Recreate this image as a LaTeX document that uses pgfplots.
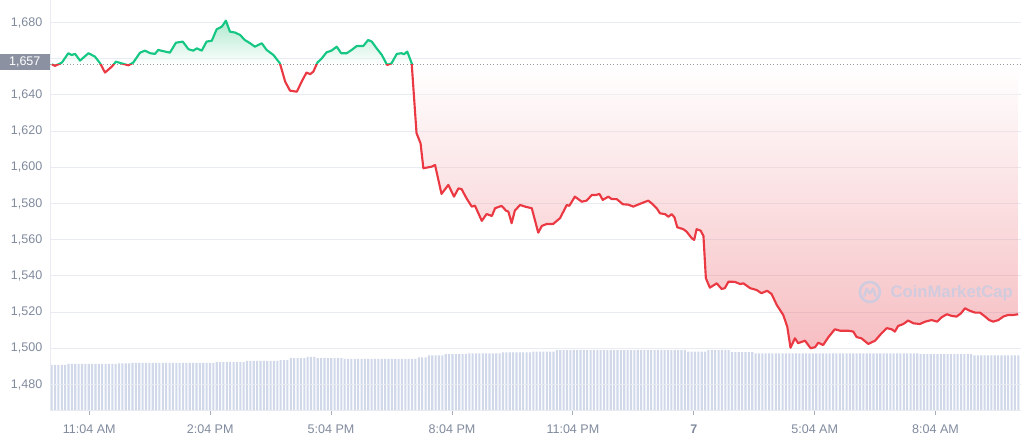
\documentclass[border=0pt]{standalone}
\usepackage{pgfplots}
\pgfplotsset{compat=1.18}
\usepackage{pgfplotstable}
\usepackage{fontspec}
\setmainfont{Liberation Sans}
\definecolor{cmcgreen}{RGB}{22,199,132}
\definecolor{cmcred}{RGB}{234,57,67}
\definecolor{tickgray}{RGB}{128,138,157}
\definecolor{gridgray}{RGB}{232,235,241}
\definecolor{volgray}{RGB}{208,216,234}
\definecolor{boxgray}{RGB}{139,145,160}
\definecolor{greenfill}{RGB}{55,200,135}
\definecolor{redfill}{RGB}{233,93,103}
\definecolor{wmcolor}{RGB}{198,204,226}
% price path bbox 1500.0 .. 1681.1 -> 25bp .. 75bp ; 1657 -> 68.35bp
\pgfdeclareverticalshading{redshade}{100bp}{color(0bp)=(redfill); color(25bp)=(redfill); color(68.35bp)=(white); color(100bp)=(white)}
\pgfdeclareverticalshading{greenshade}{100bp}{color(0bp)=(white); color(68.35bp)=(white); color(75bp)=(greenfill); color(100bp)=(greenfill)}

\pgfplotstableread{
x y
-0.93 1657.0
-0.85 1656.1
-0.68 1657.9
-0.52 1663.1
-0.44 1662.1
-0.35 1662.7
-0.23 1659.0
-0.02 1663.1
0.14 1661.2
0.27 1657.5
0.39 1652.4
0.56 1655.7
0.66 1658.4
0.80 1657.5
0.97 1656.4
1.09 1657.9
1.26 1663.4
1.38 1664.5
1.51 1663.1
1.63 1662.7
1.71 1664.9
1.88 1664.0
2.00 1663.4
2.15 1668.9
2.32 1669.5
2.46 1665.3
2.58 1664.5
2.67 1665.8
2.79 1664.5
2.91 1669.5
3.04 1670.0
3.16 1676.3
3.29 1677.8
3.39 1681.1
3.49 1675.0
3.62 1674.5
3.74 1673.2
3.86 1670.4
3.99 1668.6
4.11 1666.7
4.28 1668.6
4.40 1664.9
4.57 1662.1
4.73 1657.5
4.86 1647.4
4.98 1642.4
5.15 1641.8
5.27 1647.4
5.39 1652.4
5.48 1651.5
5.56 1652.9
5.66 1657.9
5.77 1660.3
5.89 1663.6
6.01 1664.5
6.14 1666.7
6.25 1663.1
6.39 1663.1
6.51 1664.9
6.64 1667.1
6.80 1667.1
6.92 1670.4
7.01 1669.5
7.13 1665.8
7.26 1662.1
7.39 1656.6
7.50 1657.5
7.63 1662.7
7.75 1663.1
7.81 1662.5
7.89 1664.0
8.00 1657.5
8.12 1618.9
8.22 1613.3
8.29 1599.5
8.50 1600.4
8.58 1601.3
8.74 1585.3
8.91 1590.3
9.05 1583.8
9.16 1588.4
9.24 1587.9
9.36 1582.9
9.49 1578.3
9.57 1578.8
9.74 1570.4
9.86 1574.2
9.99 1573.1
10.07 1577.4
10.23 1578.7
10.34 1576.1
10.40 1575.5
10.48 1569.1
10.56 1576.1
10.69 1579.2
10.81 1578.3
10.98 1577.4
11.14 1563.9
11.23 1567.6
11.35 1568.7
11.51 1568.7
11.68 1571.9
11.85 1579.2
11.91 1578.7
12.05 1583.8
12.22 1581.0
12.34 1581.6
12.47 1584.7
12.57 1584.7
12.66 1585.3
12.74 1582.0
12.88 1583.8
12.96 1582.5
13.09 1582.4
13.24 1579.6
13.37 1579.4
13.50 1578.3
13.66 1579.8
13.87 1581.6
13.95 1580.2
14.08 1577.4
14.16 1574.6
14.29 1574.1
14.37 1572.7
14.45 1574.1
14.52 1572.4
14.59 1566.9
14.74 1565.8
14.82 1564.5
14.95 1560.8
15.01 1559.9
15.07 1565.8
15.17 1565.0
15.24 1562.1
15.30 1538.7
15.40 1533.5
15.57 1535.9
15.69 1532.8
15.77 1533.2
15.86 1536.8
16.02 1536.7
16.15 1535.5
16.23 1535.9
16.40 1533.2
16.56 1532.2
16.68 1530.4
16.82 1531.8
16.93 1530.0
17.06 1523.9
17.22 1518.4
17.32 1511.9
17.40 1500.3
17.51 1505.5
17.59 1502.8
17.76 1504.2
17.90 1500.0
18.01 1500.6
18.09 1503.1
18.21 1501.8
18.34 1506.1
18.50 1510.5
18.63 1509.7
18.83 1509.7
18.96 1509.2
19.04 1506.2
19.16 1505.5
19.33 1502.4
19.50 1504.2
19.66 1508.3
19.79 1511.1
19.91 1510.5
19.99 1509.2
20.07 1512.3
20.20 1513.4
20.32 1515.3
20.45 1513.8
20.61 1513.4
20.74 1514.7
20.90 1515.6
21.04 1514.7
21.15 1517.1
21.28 1518.8
21.40 1517.9
21.52 1517.5
21.63 1519.3
21.73 1522.1
21.84 1520.8
21.98 1519.7
22.10 1519.7
22.23 1517.5
22.33 1515.6
22.43 1514.7
22.56 1515.6
22.68 1517.5
22.80 1518.4
22.93 1518.4
23.05 1518.8
}\price

\begin{document}
\begin{tikzpicture}
\useasboundingbox (-37.5pt,-22pt) rectangle (728.25pt,308pt);
% volume bars
\begin{axis}[scale only axis, width=728.25pt, height=308pt, at={(0,0)}, anchor=south west,
  xmin=-0.5, xmax=287.8, ymin=1465.5, ymax=1692.5, hide axis]
\addplot[ybar, bar width=1.55pt, bar shift=0pt, fill=volgray, draw=none] coordinates {
(0,1490.8)(1,1490.8)(2,1490.8)(3,1490.8)(4,1490.8)(5,1491.3)(6,1491.3)(7,1491.3)(8,1491.3)(9,1491.3)
(10,1491.3)(11,1491.3)(12,1491.3)(13,1491.3)(14,1491.3)(15,1491.3)(16,1491.3)(17,1491.3)(18,1491.3)(19,1491.3)
(20,1491.7)(21,1491.7)(22,1491.7)(23,1491.7)(24,1491.9)(25,1491.9)(26,1491.9)(27,1491.9)(28,1491.9)(29,1491.9)
(30,1491.9)(31,1491.9)(32,1491.9)(33,1491.9)(34,1491.9)(35,1491.9)(36,1491.9)(37,1491.9)(38,1491.9)(39,1491.9)
(40,1491.9)(41,1491.9)(42,1491.9)(43,1491.9)(44,1491.9)(45,1491.9)(46,1491.9)(47,1491.9)(48,1491.9)(49,1492.3)
(50,1492.3)(51,1492.3)(52,1492.3)(53,1492.3)(54,1492.3)(55,1492.3)(56,1492.3)(57,1492.3)(58,1493.0)(59,1493.0)
(60,1493.0)(61,1493.0)(62,1493.0)(63,1493.0)(64,1493.0)(65,1493.0)(66,1493.0)(67,1493.0)(68,1493.5)(69,1493.5)
(70,1493.5)(71,1494.5)(72,1494.5)(73,1494.5)(74,1494.5)(75,1494.5)(76,1495.2)(77,1495.2)(78,1495.2)(79,1494.6)
(80,1494.6)(81,1494.6)(82,1494.6)(83,1494.6)(84,1494.6)(85,1494.6)(86,1494.6)(87,1494.1)(88,1494.1)(89,1494.1)
(90,1494.1)(91,1494.1)(92,1494.1)(93,1494.1)(94,1494.1)(95,1494.1)(96,1494.1)(97,1494.1)(98,1494.1)(99,1494.1)
(100,1494.1)(101,1494.1)(102,1494.1)(103,1494.1)(104,1494.1)(105,1494.1)(106,1494.1)(107,1494.1)(108,1494.1)(109,1495.0)
(110,1495.0)(111,1495.0)(112,1496.1)(113,1496.1)(114,1496.1)(115,1496.1)(116,1496.1)(117,1496.7)(118,1496.7)(119,1496.7)
(120,1496.7)(121,1496.7)(122,1496.7)(123,1496.7)(124,1497.2)(125,1497.2)(126,1497.2)(127,1497.2)(128,1497.2)(129,1497.2)
(130,1497.2)(131,1497.2)(132,1497.2)(133,1497.2)(134,1497.7)(135,1497.7)(136,1497.7)(137,1497.7)(138,1497.7)(139,1497.7)
(140,1497.7)(141,1497.7)(142,1497.7)(143,1498.1)(144,1498.1)(145,1498.1)(146,1498.1)(147,1498.1)(148,1498.1)(149,1498.1)
(150,1498.9)(151,1498.9)(152,1498.9)(153,1498.9)(154,1498.9)(155,1498.9)(156,1498.9)(157,1498.9)(158,1498.9)(159,1498.9)
(160,1498.9)(161,1498.9)(162,1498.9)(163,1498.9)(164,1498.9)(165,1498.9)(166,1498.9)(167,1498.9)(168,1498.9)(169,1498.9)
(170,1498.9)(171,1498.9)(172,1498.9)(173,1498.9)(174,1498.9)(175,1498.9)(176,1498.9)(177,1498.9)(178,1498.9)(179,1498.9)
(180,1498.9)(181,1498.9)(182,1498.9)(183,1498.9)(184,1498.9)(185,1498.9)(186,1498.9)(187,1498.9)(188,1498.9)(189,1498.1)
(190,1498.1)(191,1498.1)(192,1498.1)(193,1498.1)(194,1498.1)(195,1498.9)(196,1498.9)(197,1498.9)(198,1498.9)(199,1498.9)
(200,1498.9)(201,1498.9)(202,1497.8)(203,1497.8)(204,1497.8)(205,1497.8)(206,1497.8)(207,1497.8)(208,1497.8)(209,1497.2)
(210,1497.2)(211,1497.2)(212,1497.2)(213,1497.2)(214,1497.2)(215,1497.2)(216,1497.2)(217,1497.2)(218,1497.2)(219,1497.2)
(220,1497.2)(221,1497.2)(222,1497.2)(223,1497.2)(224,1497.2)(225,1497.2)(226,1497.2)(227,1497.2)(228,1497.2)(229,1497.2)
(230,1497.2)(231,1497.2)(232,1497.2)(233,1497.2)(234,1497.2)(235,1497.2)(236,1497.2)(237,1497.2)(238,1497.2)(239,1497.2)
(240,1497.2)(241,1497.2)(242,1497.2)(243,1497.2)(244,1497.2)(245,1497.2)(246,1497.2)(247,1497.2)(248,1497.2)(249,1497.2)
(250,1497.2)(251,1497.2)(252,1497.2)(253,1497.2)(254,1497.2)(255,1497.2)(256,1497.2)(257,1497.2)(258,1496.7)(259,1496.7)
(260,1496.7)(261,1496.7)(262,1496.7)(263,1496.7)(264,1496.7)(265,1496.7)(266,1496.7)(267,1496.7)(268,1496.7)(269,1496.7)
(270,1496.7)(271,1496.7)(272,1496.7)(273,1496.7)(274,1496.1)(275,1496.1)(276,1496.1)(277,1496.1)(278,1496.1)(279,1496.1)
(280,1496.1)(281,1496.1)(282,1496.1)(283,1496.1)(284,1496.1)(285,1496.1)(286,1496.1)(287,1496.1)
};
\end{axis}
% price
\begin{axis}[scale only axis, width=728.25pt, height=308pt, at={(0,0)}, anchor=south west,
  xmin=-0.975, xmax=23.12, ymin=1465.5, ymax=1692.5,
  axis x line*=bottom, axis y line*=left,
  axis line style={draw=gridgray, line width=0.75pt, -},
  xtick={0,3,...,21},
  xticklabels={11:04 AM,2:04 PM,5:04 PM,8:04 PM,11:04 PM,\textbf{7},5:04 AM,8:04 AM},
  ytick={1480,1500,...,1680},
  yticklabels={1{,}480,1{,}500,1{,}520,1{,}540,1{,}560,1{,}580,1{,}600,1{,}620,1{,}640,,1{,}680},
  tick label style={font=\fontsize{9.4}{11}\selectfont, text=tickgray},
  /pgf/number format/assume math mode=true,
  tick align=outside, major tick length=3pt,
  xtick style={draw=tickgray!70, line width=0.6pt},
  ytick style={draw=none},
  yticklabel style={xshift=0.75pt},
  xticklabel style={yshift=-3.75pt},
  ymajorgrids, grid style={draw=gridgray, line width=0.75pt},
]
\begin{scope}
\clip (axis cs:-2,1400) rectangle (axis cs:25,1657);
\addplot[shade, shading=redshade, draw=none, fill opacity=0.4] table {\price} -- (axis cs:23.05,1657) -- (axis cs:-0.93,1657) -- cycle;
\end{scope}
\begin{scope}
\clip (axis cs:-2,1657) rectangle (axis cs:25,1700);
\addplot[shade, shading=greenshade, draw=none, fill opacity=0.4] table {\price} -- (axis cs:23.05,1657) -- (axis cs:-0.93,1657) -- cycle;
\end{scope}
\addplot[draw=gray!80, line width=0.7pt, dash pattern=on 0.7pt off 1.8pt] coordinates {(-0.975,1657) (23.12,1657)};
\begin{scope}
\clip (axis cs:-2,1657) rectangle (axis cs:25,1700);
\addplot[cmcgreen, line width=1.6pt, line join=round] table {\price};
\end{scope}
\begin{scope}
\clip (axis cs:-2,1400) rectangle (axis cs:25,1657);
\addplot[cmcred, line width=1.6pt, line join=round] table {\price};
\end{scope}
\coordinate (b1657) at (axis cs:-0.975,1658.3);
\coordinate (wmlogo) at (axis cs:19.37,1531.1);
\node[text=wmcolor, opacity=0.8, font=\fontsize{12.5}{14}\selectfont\bfseries] at (axis cs:21.40,1530.6) {CoinMarketCap};
\end{axis}
\begin{scope}[shift={(wmlogo)}, opacity=0.8]
\draw[wmcolor, line width=2pt] (0,0) circle[radius=7.5pt];
\draw[wmcolor, line width=1.8pt, line join=round, line cap=round] (-4.2pt,-3pt) -- (-2.4pt,2.6pt) -- (0pt,-1.2pt) -- (2.4pt,2.6pt) -- (4.2pt,-3pt);
\end{scope}
\node[anchor=east, fill=boxgray, text=white, minimum width=37.5pt, minimum height=12pt, inner sep=0pt,
  font=\fontsize{9.4}{11}\selectfont] at (b1657) {1,657};
\end{tikzpicture}
\end{document}
